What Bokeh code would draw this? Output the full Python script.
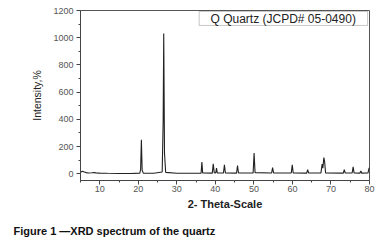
from bokeh.plotting import figure
from bokeh.models import Range1d, FixedTicker, Title, Label, BoxAnnotation, ColumnDataSource
from bokeh.embed import file_html
from bokeh.resources import INLINE

# 2-theta positions (deg) and intensities
theta = [5.0, 5.5, 6.0, 6.5, 7.0, 8.0, 8.5, 9.0, 10.0, 12.0, 15.0, 18.0,
         20.4, 20.6, 20.8, 21.0, 21.3, 24.0,
         26.2, 26.45, 26.6, 26.8, 27.1, 30.0, 34.0,
         36.3, 36.5, 36.7, 39.2, 39.45, 39.7, 40.1, 40.3, 40.5,
         42.1, 42.35, 42.6, 45.5, 45.75, 46.0, 49.8, 50.05, 50.3,
         54.6, 54.85, 55.1, 59.7, 59.95, 60.2, 63.7, 63.95, 64.2,
         67.4, 67.7, 67.9, 68.15, 68.35, 68.6, 73.2, 73.45, 73.7,
         75.5, 75.75, 76.0, 77.5, 77.75, 78.0, 79.6, 79.9, 80.0]
intensity = [10, 18, 12, 8, 5, 7, 9, 6, 4, 3, 2, 2,
             4, 30, 250, 25, 4, 3,
             12, 380, 1030, 150, 10, 3, 3,
             4, 85, 6, 4, 72, 8, 6, 42, 5,
             5, 65, 6, 4, 60, 5, 5, 152, 8,
             5, 45, 6, 5, 65, 6, 4, 30, 5,
             6, 70, 40, 118, 90, 6, 4, 30, 5,
             5, 50, 6, 4, 20, 4, 5, 42, 30]

x_ticks = [10, 20, 30, 40, 50, 60, 70, 80]
x_minor = [5, 15, 25, 35, 45, 55, 65, 75]
y_ticks = [0, 200, 400, 600, 800, 1000, 1200]
y_minor = [100, 300, 500, 700, 900, 1100]

legend_text = "Q Quartz (JCPD# 05-0490)"
x_label = "2- Theta-Scale"
y_label = "Intensity,%"
caption = "Figure 1 \u2014XRD spectrum of the quartz"

FONT = "Liberation Sans"

p = figure(width=384, height=247, output_backend="svg", toolbar_location=None,
           x_range=Range1d(5, 80), y_range=Range1d(-50, 1200),
           min_border_left=80, min_border_top=10, min_border_right=15, min_border_bottom=67)
p.background_fill_color = "white"
p.border_fill_color = "white"
p.outline_line_color = "#555555"
p.outline_line_width = 1
p.grid.visible = False

src = ColumnDataSource(dict(x=theta, y=intensity))
p.line("x", "y", source=src, line_color="#222222", line_width=1.1)

for ax in (p.xaxis[0], p.yaxis[0]):
    ax.axis_line_color = "#444444"
    ax.major_tick_line_color = "#444444"
    ax.minor_tick_line_color = "#444444"
    ax.major_tick_out = 4
    ax.major_tick_in = 0
    ax.minor_tick_out = 2
    ax.minor_tick_in = 0
    ax.major_label_text_font = FONT
    ax.major_label_text_font_size = "9px"
    ax.major_label_text_color = "#555555"
    ax.axis_label_text_font = FONT
    ax.axis_label_text_color = "#222222"

p.xaxis[0].ticker = FixedTicker(ticks=x_ticks, minor_ticks=x_minor)
p.yaxis[0].ticker = FixedTicker(ticks=y_ticks, minor_ticks=y_minor)
p.xaxis[0].major_label_standoff = 1
p.yaxis[0].major_label_standoff = 3

p.xaxis[0].axis_label = x_label
p.xaxis[0].axis_label_text_font_style = "bold"
p.xaxis[0].axis_label_text_font_size = "11px"
p.xaxis[0].axis_label_standoff = 3

p.yaxis[0].axis_label = y_label
p.yaxis[0].axis_label_text_font_style = "normal"
p.yaxis[0].axis_label_text_font_size = "10.5px"
p.yaxis[0].axis_label_standoff = 7

# legend-like box in the upper right
p.add_layout(BoxAnnotation(left=35.8, right=79.5, bottom=1090, top=1193,
                           fill_color="white", fill_alpha=1.0,
                           line_color="#444444", line_width=1))
p.add_layout(Label(x=57.6, y=1141, text=legend_text, text_align="center",
                   text_baseline="middle", text_font=FONT,
                   text_font_size="12px", text_color="#222222"))

cap = Title(text=caption, align="left", offset=-67, standoff=21,
            text_font=FONT, text_font_size="11px", text_font_style="bold",
            text_color="#111111")
p.add_layout(cap, "below")

open("out.html", "w").write(file_html(p, INLINE))
